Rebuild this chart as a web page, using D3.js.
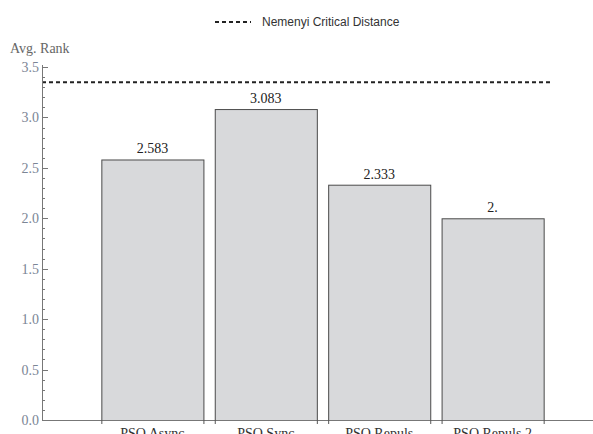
<!DOCTYPE html>
<html>
<head>
<meta charset="utf-8">
<script src="https://cdn.jsdelivr.net/npm/d3@7"></script>
<style>
body { margin: 0; background: #fff; }
svg { display: block; }
</style>
</head>
<body>
<svg width="593" height="434"></svg>
<script>
var svg = d3.select('svg');

var categories = ['PSO Async', 'PSO Sync', 'PSO Repuls', 'PSO Repuls 2'];
var avgRank = [2.583, 3.083, 2.333, 2];
var rankLabels = ['2.583', '3.083', '2.333', '2.'];
var criticalDistance = 3.35;
var yTicks = [0, 0.5, 1, 1.5, 2, 2.5, 3, 3.5];

var x0 = 42, x1 = 593;
var y = d3.scaleLinear().domain([0, 3.5]).range([420, 67]);
var x = d3.scaleBand().domain(categories).range([90, 555]).paddingInner(0.1).paddingOuter(0.1);

var axisColor = '#777';
var labelColor = '#7b8595';

// bars
svg.selectAll('rect.bar')
.data(avgRank)
.enter()
.append('rect')
.attr('class', 'bar')
.attr('x', function(d, i){ return x(categories[i]) + 0.5; })
.attr('width', x.bandwidth())
.attr('y', function(d){ return y(d) + 0.5; })
.attr('height', function(d){ return y(0) - y(d); })
.attr('fill', '#d8d9db')
.attr('stroke', '#4a4a4a')
.attr('stroke-width', 1);

// value labels
svg.selectAll('text.val')
.data(avgRank)
.enter()
.append('text')
.attr('x', function(d, i){ return x(categories[i]) + x.bandwidth() / 2; })
.attr('y', function(d){ return y(d) - 6; })
.attr('text-anchor', 'middle')
.attr('font-family', 'Liberation Serif, serif')
.attr('font-size', '14px')
.attr('fill', '#222')
.text(function(d, i){ return rankLabels[i]; });

// critical distance line
svg.append('line')
.attr('x1', x0).attr('x2', 551)
.attr('y1', y(criticalDistance)).attr('y2', y(criticalDistance))
.attr('stroke', '#222').attr('stroke-width', 2)
.attr('stroke-dasharray', '4,3');

// y axis
svg.append('line')
.attr('x1', x0 + 0.5).attr('x2', x0 + 0.5)
.attr('y1', y(3.5) - 2).attr('y2', y(0))
.attr('stroke', axisColor);

var minor = d3.range(0, 35).map(function(i){ return i / 10; }).filter(function(v, i){ return i % 5 != 0; });
svg.selectAll('line.minor')
.data(minor)
.enter()
.append('line')
.attr('x1', x0).attr('x2', x0 + 3)
.attr('y1', function(d){ return Math.round(y(d)) + 0.5; })
.attr('y2', function(d){ return Math.round(y(d)) + 0.5; })
.attr('stroke', axisColor);

svg.selectAll('line.major')
.data(yTicks)
.enter()
.append('line')
.attr('x1', x0).attr('x2', x0 + 6)
.attr('y1', function(d){ return Math.round(y(d)) + 0.5; })
.attr('y2', function(d){ return Math.round(y(d)) + 0.5; })
.attr('stroke', axisColor);

svg.selectAll('text.ytick')
.data(yTicks)
.enter()
.append('text')
.attr('x', x0 - 3)
.attr('y', function(d){ return y(d) + 5; })
.attr('text-anchor', 'end')
.attr('font-family', 'Liberation Serif, serif')
.attr('font-size', '14px')
.attr('fill', labelColor)
.text(function(d){ return d.toFixed(1); });

svg.append('text')
.attr('x', 10).attr('y', 53)
.attr('font-family', 'Liberation Serif, serif')
.attr('font-size', '14px')
.attr('fill', '#666')
.text('Avg. Rank');

// x axis
svg.append('line')
.attr('x1', x0).attr('x2', x1)
.attr('y1', y(0) + 0.5).attr('y2', y(0) + 0.5)
.attr('stroke', axisColor);

var edges = [];
categories.forEach(function(c){
	edges.push(x(c));
	edges.push(x(c) + x.bandwidth());
});
svg.selectAll('line.xtick')
.data(edges)
.enter()
.append('line')
.attr('x1', function(d){ return d + 0.5; })
.attr('x2', function(d){ return d + 0.5; })
.attr('y1', y(0)).attr('y2', y(0) + 4)
.attr('stroke', '#555');

svg.selectAll('text.cat')
.data(categories)
.enter()
.append('text')
.attr('x', function(d){ return x(d) + x.bandwidth() / 2; })
.attr('y', 438)
.attr('text-anchor', 'middle')
.attr('font-family', 'Liberation Serif, serif')
.attr('font-size', '14px')
.attr('fill', '#333')
.text(function(d){ return d; });

// legend
svg.append('line')
.attr('x1', 215).attr('x2', 251)
.attr('y1', 22).attr('y2', 22)
.attr('stroke', '#222').attr('stroke-width', 2)
.attr('stroke-dasharray', '4,3');
svg.append('text')
.attr('x', 262).attr('y', 26)
.attr('font-family', 'Liberation Sans, Arial, sans-serif')
.attr('font-size', '12px')
.attr('fill', '#333')
.text('Nemenyi Critical Distance');
</script>
</body>
</html>
